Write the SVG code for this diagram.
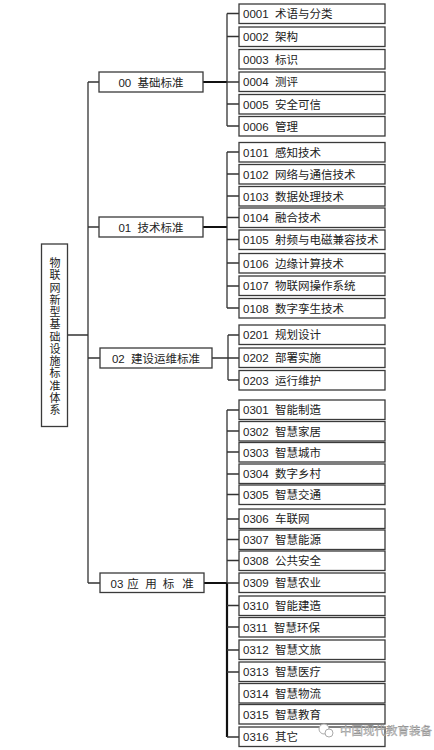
<svg xmlns="http://www.w3.org/2000/svg" width="434" height="750" viewBox="0 0 434 750">
<style>
.bx{fill:#fff;stroke:#3a3a3a;stroke-width:1.3}
.t{font-family:"Liberation Sans","Noto Sans CJK SC",sans-serif;font-size:11.5px;fill:#222}
.c{text-anchor:middle}
.v{font-size:11px}
.ln{stroke:#333;stroke-width:1.3;fill:none}
.th{stroke:#111;stroke-width:2.2;fill:none}
.wm{font-family:"Noto Sans CJK SC",sans-serif;font-size:11.5px;fill:#c8c8c8;stroke:#888;stroke-width:0.3}
</style>
<rect width="434" height="750" fill="#fff"/>
<g id="connectors">
<path class="ln" d="M68 335H88M88 82V583M88 82H99M88 227H99M88 358H100M88 583H100"/>
<path class="th" d="M203 82H227M203 227H227M204 583H227M227 583V737"/>
<path class="ln" d="M227 82H239M212 358H239"/>
<path class="ln" d="M227 13.5V126M227 13.5H239M227 36.5H239M227 104H239M227 126H239"/>
<path class="ln" d="M227 152V308M227 152H239M227 174H239M227 196H239M227 217.5H239M227 239.5H239M227 263H239M227 286H239M227 308H239"/>
<path class="ln" d="M228 335V380M228 335H239M228 380H239"/>
<path class="ln" d="M227 410V583M227 410H239M227 431H239M227 452H239M227 474H239M227 494.5H239M227 519H239M227 539.5H239M227 560.5H239M227 583H239M227 605.5H239M227 627H239M227 650H239M227 672H239M227 737H239"/>
</g>
<g id="root">
<rect class="bx" x="41.5" y="244" width="26" height="182.5"/>
<text class="t c v" dominant-baseline="central"><tspan x="55" y="263">物</tspan><tspan x="55" y="275.25">联</tspan><tspan x="55" y="287.5">网</tspan><tspan x="55" y="299.75">新</tspan><tspan x="55" y="312">型</tspan><tspan x="55" y="324.25">基</tspan><tspan x="55" y="336.5">础</tspan><tspan x="55" y="348.75">设</tspan><tspan x="55" y="361">施</tspan><tspan x="55" y="373.25">标</tspan><tspan x="55" y="385.5">准</tspan><tspan x="55" y="397.75">体</tspan><tspan x="55" y="410">系</tspan></text>
</g>
<g id="n00"><rect class="bx" x="99" y="72" width="104" height="20"/><text class="t c" x="151" y="86.5" xml:space="preserve">00  基础标准</text></g>
<g id="n01"><rect class="bx" x="99" y="217" width="104" height="20"/><text class="t c" x="151" y="231.5" xml:space="preserve">01  技术标准</text></g>
<g id="n02"><rect class="bx" x="100" y="348" width="112" height="20"/><text class="t c" x="156" y="362.5" xml:space="preserve">02  建设运维标准</text></g>
<g id="n03"><rect class="bx" x="100" y="573" width="104" height="19.5"/><text class="t c" y="587.5"><tspan x="117">03</tspan><tspan x="133">应</tspan><tspan x="151">用</tspan><tspan x="168.5">标</tspan><tspan x="188">准</tspan></text></g>

<g id="n0001"><rect class="bx" x="239" y="4" width="146" height="19.5"/><text class="t" x="243" y="18" xml:space="preserve">0001  术语与分类</text></g>
<g id="n0002"><rect class="bx" x="239" y="27" width="146" height="19.5"/><text class="t" x="243" y="41" xml:space="preserve">0002  架构</text></g>
<g id="n0003"><rect class="bx" x="239" y="49.5" width="146" height="19.5"/><text class="t" x="243" y="63.5" xml:space="preserve">0003  标识</text></g>
<g id="n0004"><rect class="bx" x="239" y="72" width="146" height="19.5"/><text class="t" x="243" y="86" xml:space="preserve">0004  测评</text></g>
<g id="n0005"><rect class="bx" x="239" y="94.5" width="146" height="19.5"/><text class="t" x="243" y="108.5" xml:space="preserve">0005  安全可信</text></g>
<g id="n0006"><rect class="bx" x="239" y="116.5" width="146" height="19.5"/><text class="t" x="243" y="130.5" xml:space="preserve">0006  管理</text></g>

<g id="n0101"><rect class="bx" x="239" y="142.5" width="146" height="19.5"/><text class="t" x="243" y="156.5" xml:space="preserve">0101  感知技术</text></g>
<g id="n0102"><rect class="bx" x="239" y="164.5" width="146" height="19.5"/><text class="t" x="243" y="178.5" xml:space="preserve">0102  网络与通信技术</text></g>
<g id="n0103"><rect class="bx" x="239" y="186.5" width="146" height="19.5"/><text class="t" x="243" y="200.5" xml:space="preserve">0103  数据处理技术</text></g>
<g id="n0104"><rect class="bx" x="239" y="208" width="146" height="19.5"/><text class="t" x="243" y="222" xml:space="preserve">0104  融合技术</text></g>
<g id="n0105"><rect class="bx" x="239" y="230" width="146" height="19.5"/><text class="t" x="243" y="244" xml:space="preserve">0105  射频与电磁兼容技术</text></g>
<g id="n0106"><rect class="bx" x="239" y="253.5" width="146" height="19.5"/><text class="t" x="243" y="267.5" xml:space="preserve">0106  边缘计算技术</text></g>
<g id="n0107"><rect class="bx" x="239" y="276" width="146" height="19.5"/><text class="t" x="243" y="290" xml:space="preserve">0107  物联网操作系统</text></g>
<g id="n0108"><rect class="bx" x="239" y="298.5" width="146" height="19.5"/><text class="t" x="243" y="312.5" xml:space="preserve">0108  数字孪生技术</text></g>

<g id="n0201"><rect class="bx" x="239" y="325" width="146" height="19.5"/><text class="t" x="243" y="339" xml:space="preserve">0201  规划设计</text></g>
<g id="n0202"><rect class="bx" x="239" y="348" width="146" height="19.5"/><text class="t" x="243" y="362" xml:space="preserve">0202  部署实施</text></g>
<g id="n0203"><rect class="bx" x="239" y="370.5" width="146" height="19.5"/><text class="t" x="243" y="384.5" xml:space="preserve">0203  运行维护</text></g>

<g id="n0301"><rect class="bx" x="239" y="400" width="146" height="19.5"/><text class="t" x="243" y="414" xml:space="preserve">0301  智能制造</text></g>
<g id="n0302"><rect class="bx" x="239" y="421.5" width="146" height="19.5"/><text class="t" x="243" y="435.5" xml:space="preserve">0302  智慧家居</text></g>
<g id="n0303"><rect class="bx" x="239" y="442.5" width="146" height="19.5"/><text class="t" x="243" y="456.5" xml:space="preserve">0303  智慧城市</text></g>
<g id="n0304"><rect class="bx" x="239" y="464" width="146" height="19.5"/><text class="t" x="243" y="478" xml:space="preserve">0304  数字乡村</text></g>
<g id="n0305"><rect class="bx" x="239" y="485" width="146" height="19.5"/><text class="t" x="243" y="499" xml:space="preserve">0305  智慧交通</text></g>
<g id="n0306"><rect class="bx" x="239" y="509" width="146" height="19.5"/><text class="t" x="243" y="523" xml:space="preserve">0306  车联网</text></g>
<g id="n0307"><rect class="bx" x="239" y="530" width="146" height="19.5"/><text class="t" x="243" y="544" xml:space="preserve">0307  智慧能源</text></g>
<g id="n0308"><rect class="bx" x="239" y="551" width="146" height="19.5"/><text class="t" x="243" y="565" xml:space="preserve">0308  公共安全</text></g>
<g id="n0309"><rect class="bx" x="239" y="573" width="146" height="19.5"/><text class="t" x="243" y="587" xml:space="preserve">0309  智慧农业</text></g>
<g id="n0310"><rect class="bx" x="239" y="596" width="146" height="19.5"/><text class="t" x="243" y="610" xml:space="preserve">0310  智能建造</text></g>
<g id="n0311"><rect class="bx" x="239" y="617.5" width="146" height="19.5"/><text class="t" x="243" y="631.5" xml:space="preserve">0311  智慧环保</text></g>
<g id="n0312"><rect class="bx" x="239" y="640" width="146" height="19.5"/><text class="t" x="243" y="654" xml:space="preserve">0312  智慧文旅</text></g>
<g id="n0313"><rect class="bx" x="239" y="662" width="146" height="19.5"/><text class="t" x="243" y="676" xml:space="preserve">0313  智慧医疗</text></g>
<g id="n0314"><rect class="bx" x="239" y="683.5" width="146" height="19.5"/><text class="t" x="243" y="697.5" xml:space="preserve">0314  智慧物流</text></g>
<g id="n0315"><rect class="bx" x="239" y="704.5" width="146" height="19.5"/><text class="t" x="243" y="718.5" xml:space="preserve">0315  智慧教育</text></g>
<g id="n0316"><rect class="bx" x="239" y="727" width="146" height="19.5"/><text class="t" x="243" y="741" xml:space="preserve">0316  其它</text></g>

<g id="watermark">
<circle cx="324" cy="729" r="5" fill="#fff" stroke="#aaa" stroke-width="1"/>
<circle cx="329" cy="733" r="4" fill="#fff" stroke="#aaa" stroke-width="1"/>
<text class="wm" x="340" y="735">中国现代教育装备</text>
</g>
</svg>
